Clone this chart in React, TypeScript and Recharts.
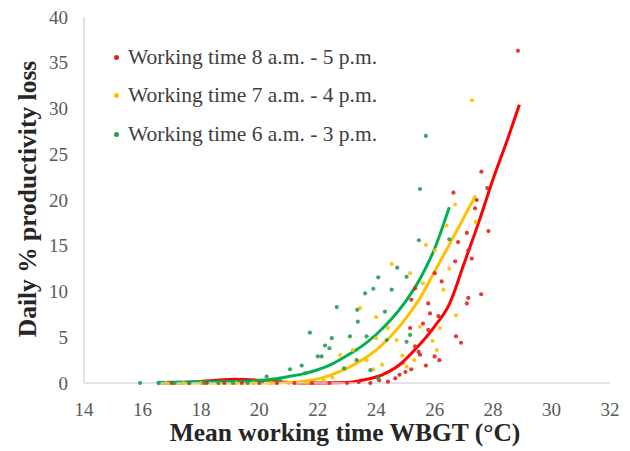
import React from "react";
import { ComposedChart, Scatter, Line, XAxis, YAxis } from "recharts";

const SERIES_NAMES = [
  "Working time 8 a.m. - 5 p.m.",
  "Working time 7 a.m. - 4 p.m.",
  "Working time 6 a.m. - 3 p.m.",
];
const X_TICKS = [14, 16, 18, 20, 22, 24, 26, 28, 30, 32];
const Y_TICKS = [0, 5, 10, 15, 20, 25, 30, 35, 40];

// observed points, 8 a.m. - 5 p.m.
const redX = [
  17.0, 17.6, 18.2, 18.8, 19.4, 20.0, 20.6, 21.2, 21.8, 22.4, 23.0, 23.4, 23.8, 24.1, 24.4, 24.65,
  24.8, 25.0, 24.9, 25.2, 25.16, 25.2, 25.33, 25.33, 25.45, 25.5, 25.6, 25.7, 25.78, 25.78, 25.84,
  26.0, 26.0, 26.13, 26.16, 26.24, 26.64, 26.73, 26.8, 26.7, 26.9, 27.1, 27.15, 27.1, 27.15, 27.27,
  27.38, 27.44, 27.59, 27.6, 27.8, 27.84, 28.85,
];
const redY = [
  0, 0, 0, 0, 0, 0, 0, 0, 0, 0, 0, 0.1, 0, 0.3, 0.15, 0.5,
  0.9, 1.2, 2.2, 1.5, 6.0, 9.1, 10.35, 4.0, 3.4, 3.1, 6.5, 1.9, 8.7, 5.8, 7.6,
  12.0, 2.9, 7.3, 2.5, 11.1, 20.8, 5.1, 15.4, 13.3, 4.4, 8.7, 9.3, 16.4, 14.5, 13.6,
  19.1, 20.0, 9.7, 23.1, 21.3, 16.6, 36.3,
];

// observed points, 7 a.m. - 4 p.m.
const yellowX = [
  16.8, 17.4, 18.0, 18.6, 19.2, 19.8, 20.4, 21.0, 21.6, 22.2, 22.5, 22.76, 23.2, 23.45, 23.67,
  23.9, 24.0, 24.0, 24.2, 24.4, 24.53, 24.7, 24.9, 25.04, 25.16, 25.3, 25.5, 25.6, 25.7, 25.93,
  26.0, 26.07, 26.18, 26.3, 26.4, 26.5, 26.7, 26.73, 27.28, 27.4,
];
const yellowY = [
  0, 0, 0, 0, 0, 0, 0, 0, 0.1, 0.3, 0.6, 3.06, 3.6, 8.2, 2.5,
  1.5, 7.2, 4.9, 2.0, 6.0, 13.0, 4.7, 3.0, 1.8, 12.0, 2.5, 6.15, 10.9, 15.1, 4.6,
  14.5, 3.6, 6.0, 10.2, 17.2, 12.5, 19.5, 7.4, 30.9, 17.6,
];

// observed points, 6 a.m. - 3 p.m.
const greenX = [
  15.92, 16.55, 17.1, 17.6, 18.1, 18.6, 19.1, 19.6, 20.1, 20.25, 20.7, 21.05, 21.45, 21.56, 21.73,
  22.0, 22.13, 22.25, 22.4, 22.48, 22.65, 22.9, 23.1, 23.33, 23.35, 23.37, 23.62, 23.67, 23.8, 23.9,
  24.07, 24.07, 24.3, 24.36, 24.53, 24.72, 25.04, 25.04, 25.16, 25.46, 25.5, 25.7, 26.5,
];
const greenY = [
  0, 0, 0, 0, 0, 0, 0, 0, 0.2, 0.7, 0.3, 1.5, 1.9, 1.06, 5.5,
  2.9, 2.9, 4.1, 3.8, 4.9, 8.3, 1.6, 5.1, 2.5, 8.0, 6.7, 9.8, 5.1, 1.4, 10.3,
  11.55, 0.5, 7.8, 4.7, 10.2, 12.6, 11.6, 4.5, 5.25, 15.6, 21.2, 27.0, 15.7,
];

// trend curves as drawn
const redTrendX = [16.5, 17.5, 18.5, 19.2, 20, 20.8, 21.5, 22.2, 23, 23.6, 24.2, 24.8, 25.4, 26, 26.5, 27, 27.5, 28, 28.5, 28.9];
const redTrendY = [0, 0.05, 0.3, 0.4, 0.3, 0.1, 0, 0, 0.05, 0.35, 0.9, 2.0, 3.9, 6.2, 8.6, 13.0, 17.5, 22.3, 26.7, 30.4];
const yellowTrendX = [16.5, 17.5, 18.5, 19.5, 20.5, 21.4, 22, 22.5, 23, 23.5, 24, 24.5, 25, 25.5, 26, 26.5, 27, 27.4];
const yellowTrendY = [0, 0, 0, 0, 0, 0.15, 0.45, 0.95, 1.6, 2.5, 3.6, 5.1, 7.0, 9.3, 12.2, 15.1, 18.1, 20.5];
const greenTrendX = [16.5, 17.5, 18.5, 19.5, 20.3, 21, 21.5, 22, 22.5, 23, 23.5, 24, 24.5, 25, 25.5, 26, 26.5];
const greenTrendY = [0.05, 0.1, 0.15, 0.2, 0.35, 0.7, 1.0, 1.45, 2.1, 3.0, 4.0, 5.3, 6.9, 8.9, 11.4, 14.7, 19.2];

const POINT_COLORS = ["#e0251f", "#ffc000", "#22a04c"];
const LINE_COLORS = ["#ff0000", "#ffc000", "#00b050"];

const zip = (xs: number[], ys: number[]) => xs.map((x, i) => ({ x, y: ys[i] }));

const pointSets = [zip(redX, redY), zip(yellowX, yellowY), zip(greenX, greenY)];
const trendSets = [
  zip(redTrendX, redTrendY),
  zip(yellowTrendX, yellowTrendY),
  zip(greenTrendX, greenTrendY),
];

const SERIF = "'Liberation Serif', serif";

const Dot = (fill: string) => (p: any) =>
  <circle cx={p.cx} cy={p.cy} r={2.1} fill={fill} fillOpacity={0.9} />;

const XTick = (p: any) => (
  <text
    x={p.x}
    y={p.y}
    dy={13}
    textAnchor="middle"
    fontFamily={SERIF}
    fontSize={19}
    fill="#595959"
  >
    {p.payload.value}
  </text>
);

const YTick = (p: any) => (
  <text
    x={p.x}
    y={p.y}
    dx={5}
    dy={6.5}
    textAnchor="end"
    fontFamily={SERIF}
    fontSize={19}
    fill="#595959"
  >
    {p.payload.value}
  </text>
);

export default function App() {
  return (
    <div
      style={{
        position: "fixed",
        left: 0,
        top: 0,
        width: 630,
        height: 451,
        background: "#fff",
        fontFamily: SERIF,
      }}
    >
      <ComposedChart
        width={630}
        height={451}
        margin={{ top: 17, right: 20, bottom: 38, left: 0 }}
      >
        <XAxis
          type="number"
          dataKey="x"
          domain={[14, 32]}
          ticks={X_TICKS}
          interval={0}
          height={30}
          tickLine={false}
          tickMargin={14}
          axisLine={{ stroke: "#d9d9d9", strokeWidth: 1.5 }}
          tick={<XTick />}
          allowDuplicatedCategory={false}
        />
        <YAxis
          type="number"
          dataKey="y"
          domain={[0, 40]}
          ticks={Y_TICKS}
          interval={0}
          width={84}
          tickLine={false}
          tickMargin={15}
          axisLine={{ stroke: "#d9d9d9", strokeWidth: 1.5 }}
          tick={<YTick />}
        />
        {pointSets.map((pts, i) => (
          <Scatter
            key={"s" + i}
            name={SERIES_NAMES[i]}
            data={pts}
            dataKey="y"
            shape={Dot(POINT_COLORS[i])}
            isAnimationActive={false}
          />
        ))}
        {trendSets.map((pts, i) => (
          <Line
            key={"l" + i}
            data={pts}
            dataKey="y"
            type="monotone"
            stroke={LINE_COLORS[i]}
            strokeWidth={3}
            dot={false}
            activeDot={false}
            legendType="none"
            isAnimationActive={false}
          />
        ))}
      </ComposedChart>

      <div
        style={{
          position: "absolute",
          left: 114,
          top: 38,
          fontSize: 21.5,
          color: "#404040",
        }}
      >
        {SERIES_NAMES.map((name, i) => (
          <div key={i} style={{ display: "flex", alignItems: "center", height: 38.5 }}>
            <span
              style={{
                display: "inline-block",
                width: 5,
                height: 5,
                borderRadius: 3,
                background: POINT_COLORS[i],
                marginRight: 9,
              }}
            />
            {name}
          </div>
        ))}
      </div>

      <div
        style={{
          position: "absolute",
          left: 345,
          top: 433,
          transform: "translate(-50%, -50%)",
          whiteSpace: "nowrap",
          fontWeight: 700,
          fontSize: 25.5,
          color: "#262626",
        }}
      >
        Mean working time WBGT (°C)
      </div>
      <div
        style={{
          position: "absolute",
          left: 28,
          top: 199,
          transform: "translate(-50%, -50%) rotate(-90deg)",
          whiteSpace: "nowrap",
          fontWeight: 700,
          fontSize: 25.5,
          color: "#262626",
        }}
      >
        Daily % productivity loss
      </div>
    </div>
  );
}
